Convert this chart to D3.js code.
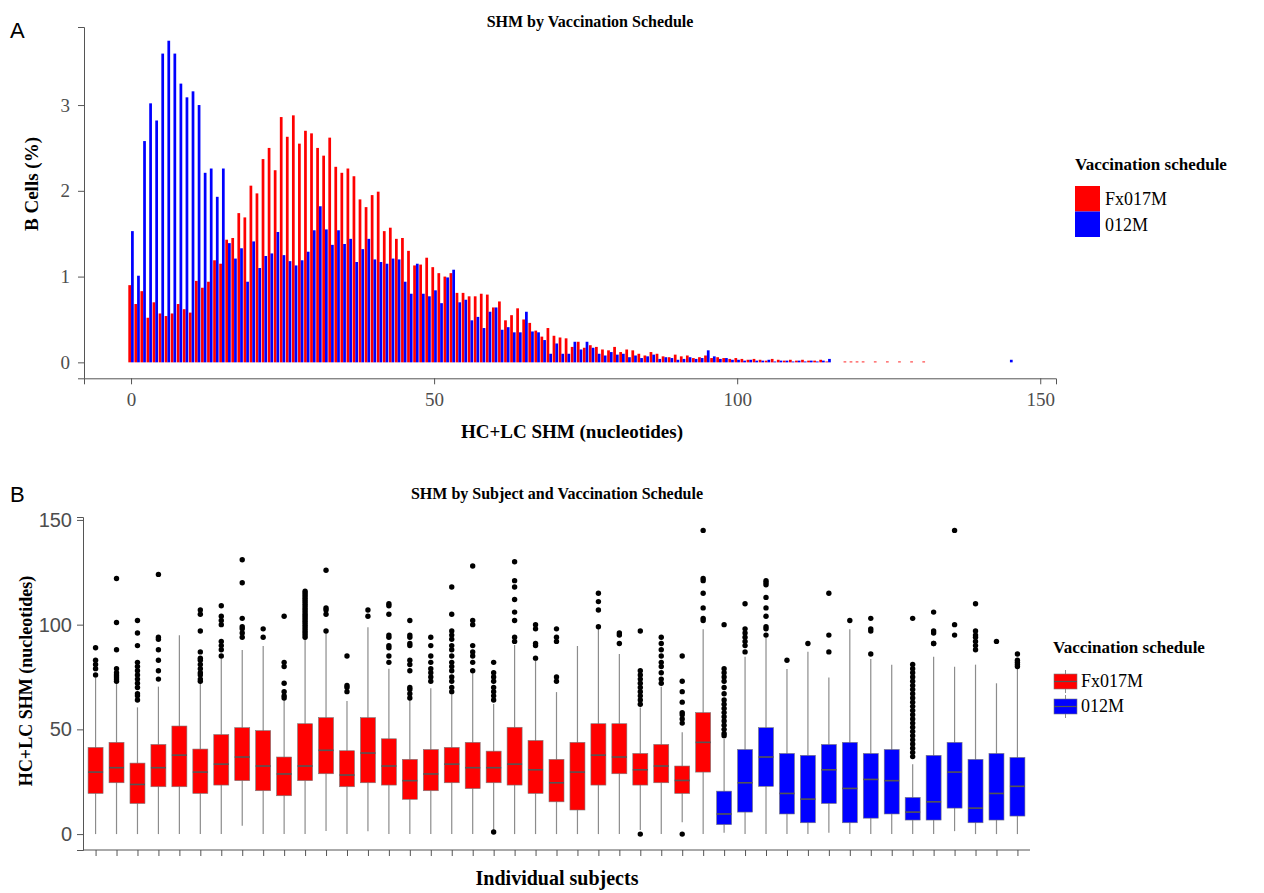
<!DOCTYPE html>
<html>
<head>
<meta charset="utf-8">
<script src="https://cdn.jsdelivr.net/npm/d3@7"></script>
<style>
  body { margin: 0; background: #fff; }
  .serif { font-family: "Liberation Serif", "Times New Roman", serif; }
  .sans { font-family: "Liberation Sans", Arial, sans-serif; }
  .axis path, .axis line { stroke: #555; }
</style>
</head>
<body>
<svg id="fig" width="1264" height="893"></svg>
<script>
// ---- Panel A data: % of B cells per HC+LC SHM count (bins 0..145) ----
var shmBins = d3.range(0, 146);

var fx017m = [
  0.90,0.68,0.83,0.52,0.70,0.57,0.54,0.57,0.68,0.62,0.58,0.95,0.87,0.94,1.19,1.15,
  1.43,1.45,1.74,1.69,2.06,1.97,2.37,2.50,2.24,2.86,2.63,
  2.88,2.55,2.70,2.67,2.50,2.41,2.62,2.28,2.21,2.26,2.17,1.90,1.81,1.95,1.99,1.53,
  1.57,1.44,1.45,1.30,1.13,1.14,1.22,1.11,1.04,1.00,1.04,
  0.81,0.81,0.77,0.77,0.80,0.79,0.64,0.71,0.49,0.55,0.63,0.50,0.46,0.37,0.30,0.40,
  0.31,0.29,0.28,0.18,0.24,0.17,0.20,
  0.18,0.15,0.14,0.18,0.12,0.15,0.14,0.10,0.08,0.12,0.10,0.07,0.06,0.09,0.07,0.08,
  0.05,0.06,0.08,0.05,0.06,0.05,0.04,0.05,
  0.04,0.03,0.04,0.03,0.02,0.04,0.03,0.02,0.03,0.02,0.03,0.02,0.02,0.03,0.01,0,
  0,0.01,0.01,0.01,0.01,0,0.01,0,0.01,0,0.01,0,0.01,0,0.01,
  0,0,0,0,0,0,0,0,0,0,0,0,0,0
];

var m012 = [
  1.53,1.01,2.58,3.02,2.82,3.60,3.75,3.60,3.25,3.09,3.16,3.00,2.21,2.26,1.93,2.26,
  1.39,1.21,1.33,0.94,1.41,1.10,1.24,1.27,1.52,1.25,1.18,
  1.13,1.19,1.29,1.54,1.82,1.55,1.37,1.54,1.38,1.44,1.17,1.32,1.44,1.20,1.17,1.15,
  1.21,1.20,0.94,0.80,1.15,0.80,0.77,0.84,0.69,0.99,1.08,
  0.70,0.73,0.49,0.53,0.40,0.59,0.64,0.38,0.41,0.35,0.35,0.59,0.36,0.35,0.26,0.10,
  0.22,0.10,0.10,0.24,0.15,0.24,0.17,
  0.10,0.08,0.12,0.09,0.10,0.06,0.08,0.05,0.07,0.09,0.04,0.06,0.05,0.03,0.04,0.06,
  0.04,0.05,0.14,0.07,0.04,0.05,0.03,0.03,
  0.02,0.03,0.02,0.02,0.03,0.01,0.02,0.02,0.01,0.02,0.01,0.02,0.01,0.02,0.04,0,
  0,0,0,0,0,0,0,0,0,0,0,0,0,0,0,
  0,0,0,0,0,0,0,0,0,0,0,0,0,0.03
];

var schedules = ["Fx017M", "012M"];
var scheduleColors = ["#ff0000", "#0000ff"];

// ---- Panel B data: per-subject boxplot stats (HC+LC SHM) ----
var subjects = d3.range(1, 46).map(function(i) { return "S" + i; });
var subjectSchedule = d3.range(45).map(function(i) { return i < 30 ? "Fx017M" : "012M"; });

var q1 = [19.4,24.5,14.6,22.6,22.6,19.4,23.4,25.5,20.7,18.3,25.5,28.8,22.6,24.5,23.4,
          16.6,20.7,24.5,21.7,24.5,23.4,19.4,15.4,11.5,23.4,28.8,23.4,24.5,19.4,29.6,
          4.5,10.5,22.8,9.6,5.4,14.6,5.4,7.6,9.6,6.7,6.7,12.4,5.4,6.7,8.6];
var medians = [29.6,31.7,23.7,31.7,37.7,29.6,33.4,36.8,32.5,28.7,32.5,40.0,28.2,38.7,32.5,
          25.5,28.7,33.4,31.7,31.7,33.4,30.7,24.5,29.6,37.7,36.8,30.7,32.5,25.6,43.8,
          9.6,24.5,36.8,19.4,16.7,30.7,21.8,26.1,25.5,10.5,15.4,29.6,12.4,19.4,22.8];
var q3 = [41.4,43.8,33.9,42.8,51.6,40.6,47.5,50.8,49.4,36.8,52.7,55.6,39.8,55.6,45.5,
          35.7,40.4,41.4,43.8,39.6,51.0,44.7,35.7,43.8,52.7,52.7,38.5,42.8,32.5,58.0,
          20.5,40.4,50.8,38.5,37.6,42.8,43.8,38.5,40.4,17.5,37.6,43.8,35.7,38.5,36.6];
var whiskerLow = [0,0,0,0,0,0,0,4,0,0,0,1.5,0,1.4,0,
          0,0,0,0,0,0,0,0,0,0,0,2,0,5.7,0,
          0.6,0,0,0,0,0.6,0,0,0,0,0,1.4,0,0,0];
var whiskerHigh = [75.6,72.3,60.5,70.4,94.9,72,83.8,87.9,89.8,64,93,95.9,63.5,98.7,79,
          64,69.6,67.5,76.8,62.1,90.3,84.4,67.8,89.8,98.2,86,60.5,70.4,48.6,97.8,
          45.5,84.7,94,78.8,87.1,74.8,97.8,83.6,80.9,33.4,84.7,79.9,80.9,72,79.9];
var outliers = [
  [89,83,81,79,76],
  [122,101,88,79,77,76,75,74,73],
  [102,96,90,82,80,78,76,74,72,70,67,66,64],
  [124,94,93,88,83,78,74],
  [],
  [107,105,97,87,84,83,81,79,77,76,74,73],
  [109,104,102,100,92,90,88,85],
  [131,120,103,99,98,96,94],
  [98,94],
  [104,82,80,72,68,66,65],
  [116,115,114,113,112,111,110,109,108,107,106,105,104,103,102,101,100,99,98,97,96,95,94],
  [126,108,107,105,97],
  [85,71,70,68],
  [107,104],
  [110,109,105,95,94,90,89,85,82],
  [102,95,94,91,90,83,81,78,70,69,67,65],
  [94,90,85,82,79,77,75,73],
  [118,105,97,95,93,90,88,85,82,80,78,75,73,70,68],
  [128,102,100,90,87,85,82,78],
  [82,77,75,73,70,68,66,64,1],
  [130,121,118,112,106,102,94,92],
  [100,98,91,90,84],
  [98,94,92,75,73],
  [],
  [115,111,107,99],
  [96,95,91],
  [97,78,76,74,72,70,68,66,64,62,0],
  [94,91,88,85,82,80,77,74,72],
  [85,73,68,63,58,57,55,53,0],
  [145,122,121,115,108,103,102],
  [100,79,77,75,73,70,67,64,62,60,58,56,54,52,50,48,47],
  [110,98,96,94,92,90,87],
  [121,120,119,113,108,104,99,98,95],
  [83],
  [91],
  [115,95,87],
  [102],
  [103,98,97,86],
  [],
  [103,81,79,77,75,73,71,69,67,65,63,61,59,57,55,53,51,49,47,45,43,41,39,37],
  [106,97,96,91,91],
  [145,100,95],
  [110,97,95,94,92,90,88],
  [92],
  [86,83,82,81,80]
];

function colorFor(s) { return scheduleColors[schedules.indexOf(s)]; }

var svg = d3.select("#fig");

// ================= Panel A: histogram =================
var xA = d3.scaleLinear().domain([-7.76, 152.6]).range([84, 1056]);
var yA = d3.scaleLinear().domain([-0.186, 3.91]).range([378.3, 27]);
var half = 0.45;

var gA = svg.append("g");

var barData = [];
shmBins.forEach(function(b, i) {
  if (fx017m[i] > 0) barData.push({bin: b, v: fx017m[i], s: 0});
  if (m012[i] > 0) barData.push({bin: b, v: m012[i], s: 1});
});

gA.selectAll("rect.bar")
  .data(barData)
  .enter().append("rect")
  .attr("class", "bar")
  .attr("x", function(d) { return xA(d.s === 0 ? d.bin - half : d.bin); })
  .attr("width", xA(half) - xA(0))
  .attr("y", function(d) { return yA(d.v); })
  .attr("height", function(d) { return yA(0) - yA(d.v); })
  .attr("fill", function(d) { return scheduleColors[d.s]; });

var xAxisA = gA.append("g")
  .attr("class", "axis")
  .attr("transform", "translate(0,378.3)")
  .call(d3.axisBottom(xA).tickValues([0, 50, 100, 150]).tickFormat(d3.format("d"))
    .tickSizeOuter(0).tickSize(6).tickPadding(8));
var yAxisA = gA.append("g")
  .attr("class", "axis")
  .attr("transform", "translate(84,0)")
  .call(d3.axisLeft(yA).tickValues([0, 1, 2, 3]).tickFormat(d3.format("d"))
    .tickSizeOuter(0).tickSize(6).tickPadding(8));
[xAxisA, yAxisA].forEach(function(a) {
  a.attr("font-family", "Liberation Serif").attr("font-size", 19);
  a.selectAll("text")
    .attr("font-family", "Liberation Serif")
    .style("font-family", "Liberation Serif")
    .attr("font-size", 19).attr("fill", "#4d4d4d");
});

gA.append("text").attr("class", "serif").attr("x", 590).attr("y", 27)
  .attr("text-anchor", "middle").attr("font-weight", "bold").attr("font-size", 16)
  .text("SHM by Vaccination Schedule");
gA.append("text").attr("class", "serif").attr("x", 572).attr("y", 438)
  .attr("text-anchor", "middle").attr("font-weight", "bold").attr("font-size", 19)
  .text("HC+LC SHM (nucleotides)");
gA.append("text").attr("class", "serif")
  .attr("transform", "translate(38,184) rotate(-90)")
  .attr("text-anchor", "middle").attr("font-weight", "bold").attr("font-size", 19)
  .text("B Cells (%)");
gA.append("text").attr("class", "sans").attr("x", 10).attr("y", 38)
  .attr("font-size", 22).text("A");

// legend A
var legA = gA.append("g").attr("transform", "translate(1075,0)");
legA.append("text").attr("class", "serif").attr("x", 0).attr("y", 170)
  .attr("font-weight", "bold").attr("font-size", 17).text("Vaccination schedule");
schedules.forEach(function(s, i) {
  legA.append("rect").attr("x", 0).attr("y", 186 + i * 25.5)
    .attr("width", 25).attr("height", 25.5).attr("fill", scheduleColors[i]);
  legA.append("text").attr("class", "serif").attr("x", 30).attr("y", 205 + i * 25.5)
    .attr("font-size", 18).text(s);
});

// ================= Panel B: boxplots =================
var xB = d3.scalePoint().domain(subjects).range([83, 1030]).padding(0.6);
var yB = d3.scaleLinear().domain([-7.6, 151.4]).range([850, 517]);
var boxW = 15;

var gB = svg.append("g");

var boxes = subjects.map(function(s, i) {
  return {
    id: s, sched: subjectSchedule[i], q1: q1[i], med: medians[i], q3: q3[i],
    lo: whiskerLow[i], hi: whiskerHigh[i], out: outliers[i]
  };
});

var box = gB.selectAll("g.box").data(boxes).enter().append("g")
  .attr("class", "box")
  .attr("transform", function(d) { return "translate(" + xB(d.id) + ",0)"; });

box.append("line").attr("x1", 0).attr("x2", 0)
  .attr("y1", function(d) { return yB(d.hi); })
  .attr("y2", function(d) { return yB(d.lo); })
  .attr("stroke", "#8c8c8c").attr("stroke-width", 1.2);
box.append("rect")
  .attr("x", -boxW / 2).attr("width", boxW)
  .attr("y", function(d) { return yB(d.q3); })
  .attr("height", function(d) { return yB(d.q1) - yB(d.q3); })
  .attr("fill", function(d) { return colorFor(d.sched); })
  .attr("stroke", "#7a7a7a").attr("stroke-width", 0.6);
box.append("line").attr("x1", -boxW / 2).attr("x2", boxW / 2)
  .attr("y1", function(d) { return yB(d.med); })
  .attr("y2", function(d) { return yB(d.med); })
  .attr("stroke", "#555").attr("stroke-width", 1.6);
box.selectAll("circle").data(function(d) { return d.out; }).enter().append("circle")
  .attr("cx", 0).attr("cy", function(v) { return yB(v); })
  .attr("r", 2.7).attr("fill", "#000");

var xAxisB = gB.append("g")
  .attr("class", "axis")
  .attr("transform", "translate(0,850)")
  .call(d3.axisBottom(xB).tickSizeOuter(0).tickSize(6).tickFormat(""));
xAxisB.select(".domain").attr("d", "M83,0H1030");
var yAxisB = gB.append("g")
  .attr("class", "axis")
  .attr("transform", "translate(83,0)")
  .call(d3.axisLeft(yB).tickValues([0, 50, 100, 150]).tickSizeOuter(0).tickSize(6).tickPadding(5));
yAxisB.attr("font-family", "Liberation Sans").attr("font-size", 20);
yAxisB.selectAll("text").attr("font-size", 20).attr("fill", "#4d4d4d");

gB.append("text").attr("class", "serif").attr("x", 557).attr("y", 499)
  .attr("text-anchor", "middle").attr("font-weight", "bold").attr("font-size", 16)
  .text("SHM by Subject and Vaccination Schedule");
gB.append("text").attr("class", "serif").attr("x", 557).attr("y", 885)
  .attr("text-anchor", "middle").attr("font-weight", "bold").attr("font-size", 20)
  .text("Individual subjects");
gB.append("text").attr("class", "serif")
  .attr("transform", "translate(32,681) rotate(-90)")
  .attr("text-anchor", "middle").attr("font-weight", "bold").attr("font-size", 18)
  .text("HC+LC SHM (nucleotides)");
gB.append("text").attr("class", "sans").attr("x", 10).attr("y", 502)
  .attr("font-size", 22).text("B");

// legend B (boxplot glyphs)
var legB = gB.append("g").attr("transform", "translate(1053,0)");
legB.append("text").attr("class", "serif").attr("x", 0).attr("y", 653)
  .attr("font-weight", "bold").attr("font-size", 17).text("Vaccination schedule");
schedules.forEach(function(s, i) {
  var top = 669 + i * 25;
  legB.append("line").attr("x1", 12.5).attr("x2", 12.5).attr("y1", top + 1).attr("y2", top + 24)
    .attr("stroke", "#8c8c8c");
  legB.append("rect").attr("x", 1).attr("y", top + 5)
    .attr("width", 23).attr("height", 15).attr("fill", scheduleColors[i])
    .attr("stroke", "#7a7a7a").attr("stroke-width", 0.6);
  legB.append("line").attr("x1", 1).attr("x2", 24).attr("y1", top + 12.5).attr("y2", top + 12.5)
    .attr("stroke", "#555").attr("stroke-width", 1.2);
  legB.append("text").attr("class", "serif").attr("x", 28).attr("y", top + 18)
    .attr("font-size", 18).text(s);
});
</script>
</body>
</html>
